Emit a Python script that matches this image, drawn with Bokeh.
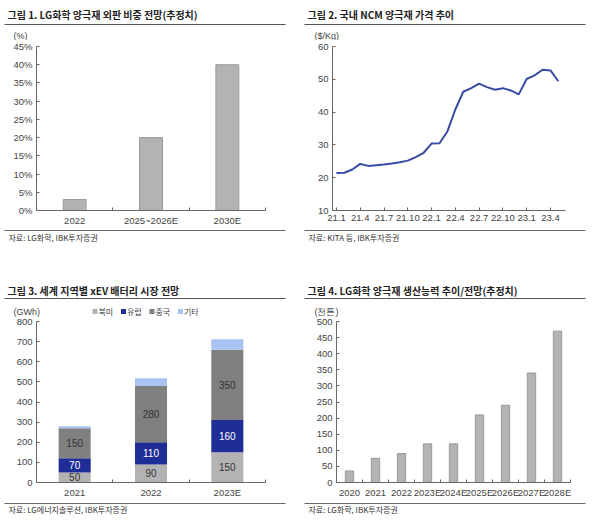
from bokeh.plotting import figure
from bokeh.layouts import column, row
from bokeh.models import (Range1d, FixedTicker, PrintfTickFormatter, ColumnDataSource, Spacer)
from bokeh.core.properties import value
from bokeh.embed import file_html
from bokeh.resources import INLINE
import numpy as np

# ---------------- data ----------------
title1 = "그림 1. LG화학 양극재 외판 비중 전망(추정치)"
title2 = "그림 2. 국내 NCM 양극재 가격 추이"
title3 = "그림 3. 세계 지역별 xEV 배터리 시장 전망"
title4 = "그림 4. LG화학 양극재 생산능력 추이/전망(추정치)"
src1 = "자료: LG화학, IBK투자증권"
src2 = "자료: KITA 등, IBK투자증권"
src3 = "자료: LG에너지솔루션, IBK투자증권"
src4 = "자료: LG화학, IBK투자증권"
unit1, unit2, unit3, unit4 = "(%)", "($/Kg)", "(GWh)", "(천톤)"

share_cats = ["2022", "2025~2026E", "2030E"]
share_vals = [3, 20, 40]

price_months = ["21.1", "21.2", "21.3", "21.4", "21.5", "21.6", "21.7", "21.8", "21.9",
                "21.10", "21.11", "21.12", "22.1", "22.2", "22.3", "22.4", "22.5", "22.6",
                "22.7", "22.8", "22.9", "22.10", "22.11", "22.12", "23.1", "23.2", "23.3",
                "23.4", "23.5"]
price_vals = [21.4, 21.5, 22.5, 24.2, 23.6, 23.8, 24.0, 24.3, 24.7, 25.2, 26.3, 27.6,
              30.4, 30.5, 34.1, 40.8, 46.2, 47.3, 48.7, 47.6, 46.8, 47.3, 46.6, 45.4,
              50.1, 51.2, 52.9, 52.7, 49.4]

mkt_years = ["2021", "2022", "2023E"]
mkt_regions = ["북미", "유럽", "중국", "기타"]
mkt_na = [50, 90, 150]
mkt_eu = [70, 110, 160]
mkt_cn = [150, 280, 350]
mkt_etc = [10, 38, 52]
mkt_colors = ["#b3b3b3", "#1f2e96", "#808080", "#a9c4f2"]

cap_years = ["2020", "2021", "2022", "2023E", "2024E", "2025E", "2026E", "2027E", "2028E"]
cap_vals = [36, 75, 90, 120, 120, 210, 240, 340, 470]

# ---------------- style ----------------
KFONT = "Noto Sans CJK KR"
TFONT = "Liberation Sans"
AX = "#666666"
TXT = "#444444"
BAR = "#b3b3b3"
BAR_EDGE = "#9a9a9a"


def strip(w, h):
    f = figure(width=w, height=h, x_range=Range1d(0, w), y_range=Range1d(0, h),
               min_border=0, min_border_left=0, min_border_right=0, min_border_top=0,
               min_border_bottom=0, toolbar_location=None, output_backend="svg",
               x_axis_location=None, y_axis_location=None)
    f.grid.visible = False
    f.outline_line_color = None
    return f


def header(title, unit, w, h, ty, ry, uy, ux):
    f = strip(w, h)
    f.text(x=[6], y=[ty], text=[title], text_font=value(KFONT), text_font_style="bold",
           text_font_size="10px", text_color="#222222", text_baseline="middle",
           text_align="left")
    f.segment(x0=[3], y0=[ry], x1=[284], y1=[ry], line_color="#555555", line_width=1)
    f.text(x=[ux], y=[uy], text=[unit], text_font=value(TFONT), text_font_size="9px",
           text_color=TXT, text_baseline="middle", text_align="left")
    return f


def footer(src, w, h, ty, ry):
    f = strip(w, h)
    f.segment(x0=[3], y0=[ry], x1=[284], y1=[ry], line_color="#666666", line_width=1)
    f.text(x=[7], y=[ty], text=[src], text_font=value(KFONT), text_align="left",
           text_font_size="8px", text_color="#333333", text_baseline="middle")
    return f


def chart(w, h, x_range, y_range, left, right, top, bottom):
    p = figure(width=w, height=h, x_range=x_range, y_range=y_range,
               min_border_left=left, min_border_right=right, min_border_top=top,
               min_border_bottom=bottom, toolbar_location=None, output_backend="svg")
    p.grid.visible = False
    p.outline_line_color = None
    for ax in (p.xaxis[0], p.yaxis[0]):
        ax.axis_line_color = AX
        ax.major_tick_line_color = AX
        ax.major_tick_in = 3
        ax.major_tick_out = 0
        ax.minor_tick_line_color = None
        ax.major_label_text_font = TFONT
        ax.major_label_text_font_size = "9.5px"
        ax.major_label_text_color = TXT
        ax.major_label_standoff = 4
    return p


def category_chart(w, h, cats, y_range, left, right, top, bottom):
    """Each category gets a slot of width 2; bars sit at the slot centres and the
    axis has tick marks on the slot boundaries, labels at the centres."""
    n = len(cats)
    p = chart(w, h, Range1d(0, 2 * n), y_range, left, right, top, bottom)
    centers = [2 * i + 1 for i in range(n)]
    ax = p.xaxis[0]
    ax.ticker = FixedTicker(ticks=centers, minor_ticks=[2 * i for i in range(n + 1)])
    ax.major_label_overrides = {c: cats[i] for i, c in enumerate(centers)}
    ax.major_tick_line_color = None
    ax.minor_tick_line_color = AX
    ax.minor_tick_in = 3
    ax.minor_tick_out = 0
    return p, centers


def shifted(fig, dx):
    return row(Spacer(width=dx, height=fig.height), fig)


SW = 296  # strip width (offset by 1px so its frame is not aligned with the charts)

# ---------- panel 1 ----------
h1 = header(title1, unit1, SW, 40, 26, 16, 5, 12)
p1, x1 = category_chart(300, 188, share_cats, Range1d(0, 45), 36, 35, 6, 18)
p1.vbar(x=x1, top=share_vals, width=0.6, fill_color=BAR, line_color=BAR_EDGE)
p1.yaxis.ticker = FixedTicker(ticks=list(range(0, 46, 5)))
p1.yaxis.formatter = PrintfTickFormatter(format="%d%%")
f1 = footer(src1, SW, 54, 45, 52)

# ---------- panel 2 ----------
h2 = header(title2, unit2, SW, 40, 26, 16, 5, 13)
xi = list(range(len(price_months)))
p2 = chart(298, 188, Range1d(-0.5, len(price_months) - 0.1), Range1d(10, 60), 32, 33, 6, 18)
p2.line(x=xi, y=price_vals, line_color="#3a4ba2", line_width=2)
p2.yaxis.ticker = FixedTicker(ticks=list(range(10, 61, 10)))
p2.xaxis.ticker = FixedTicker(ticks=xi[::3])
p2.xaxis.major_label_overrides = {i: price_months[i] for i in xi[::3]}
f2 = footer(src2, SW, 54, 45, 52)

# ---------- panel 3 ----------
h3 = header(title3, unit3, SW, 35, 27, 19, 6, 12)
for i, (name, col) in enumerate(zip(mkt_regions, mkt_colors)):
    lx = 91 + 28.5 * i
    h3.scatter(x=[lx + 2.5], y=[6], marker="square", size=5, fill_color=col, line_color=None)
    h3.text(x=[lx + 6], y=[6], text=[name], text_font=value(KFONT), text_font_size="8px",
            text_color=TXT, text_baseline="middle", text_align="left")
p3, x3 = category_chart(300, 183, mkt_years, Range1d(0, 800), 36, 35, 4, 16)
src = ColumnDataSource(dict(x=x3, year=mkt_years, na=mkt_na, eu=mkt_eu, cn=mkt_cn, etc=mkt_etc))
p3.vbar_stack(["na", "eu", "cn", "etc"], x="x", width=0.84, source=src,
              color=mkt_colors, line_color=None)
p3.yaxis.ticker = FixedTicker(ticks=list(range(0, 801, 100)))
stack = np.array([mkt_na, mkt_eu, mkt_cn], dtype=float)
mids = np.cumsum(stack, axis=0) - stack / 2
lab_colors = ["#333333", "#ffffff", "#333333"]
for k in range(3):
    p3.text(x=x3, y=list(mids[k]), text=[str(v) for v in stack[k].astype(int)],
            text_font=value(TFONT), text_font_size="10px", text_color=lab_colors[k],
            text_align="center", text_baseline="middle")
f3 = footer(src3, SW, 20, 11, 17)

# ---------- panel 4 ----------
h4 = header(title4, unit4, SW, 35, 27, 19, 6, 13)
p4, x4 = category_chart(294, 183, cap_years, Range1d(0, 500), 34, 26, 4, 16)
p4.vbar(x=x4, top=cap_vals, width=0.64, fill_color=BAR, line_color=BAR_EDGE)
p4.yaxis.ticker = FixedTicker(ticks=list(range(0, 501, 50)))
f4 = footer(src4, SW, 20, 11, 17)

left_top = column(shifted(h1, 1), p1, shifted(f1, 1))
right_top = column(shifted(h2, 1), p2, shifted(f2, 1))
left_bot = column(shifted(h3, 1), p3, shifted(f3, 1))
right_bot = column(shifted(h4, 1), shifted(p4, 2), shifted(f4, 1))

layout = column(row(left_top, right_top), row(left_bot, right_bot))

open("out.html", "w").write(file_html(layout, INLINE))
